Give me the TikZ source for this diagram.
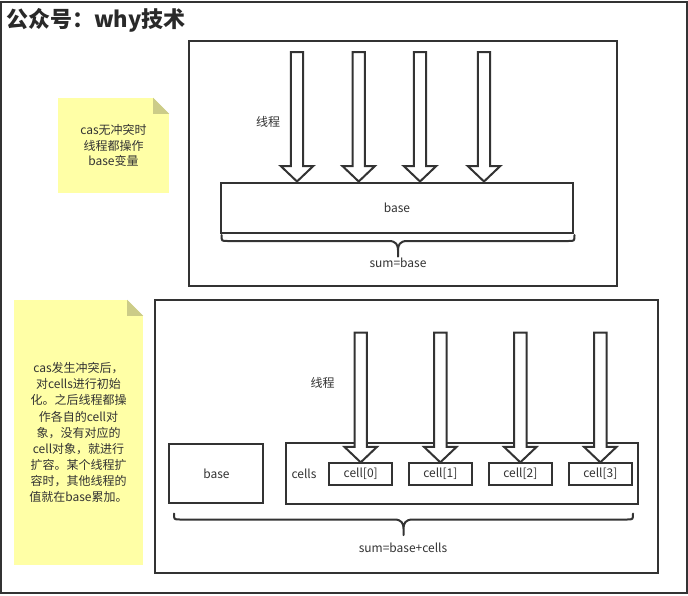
\documentclass[tikz,border=0pt]{standalone}
\usepackage{fontspec}
\setmainfont{Noto Sans CJK SC}
\usetikzlibrary{calc}
\definecolor{ln}{HTML}{333333}
\definecolor{notey}{HTML}{FFFFA6}
\definecolor{notef}{HTML}{CCCC88}
\newcommand\blockarrow[2]{%
  \draw[blk] let \p1=(#1), \p2=(#2) in
    (\x1-6.2pt,\y1) -- (\x1+6.2pt,\y1) -- (\x1+6.2pt,\y2+15.5pt) -- (\x1+16.3pt,\y2+15.5pt)
    -- (\x1,\y2) -- (\x1-16.3pt,\y2+15.5pt) -- (\x1-6.2pt,\y2+15.5pt) -- cycle;}
\newcommand\sumbrace[2]{%
  \draw[brc] let \p1=(#1), \p2=(#2), \p3=($(#1)!0.5!(#2)$) in
    (\x1,\y1) .. controls (\x1,\y1-6pt) .. (\x1+6pt,\y1-6pt) -- (\x3-9pt,\y1-6pt)
    .. controls (\x3-2pt,\y1-6pt) and (\x3,\y1-10pt) .. (\x3,\y1-15pt) -- (\x3,\y1-21.5pt)
    (\x3,\y1-15pt) .. controls (\x3,\y1-10pt) and (\x3+2pt,\y1-6pt) .. (\x3+9pt,\y1-6pt)
    -- (\x2-6pt,\y1-6pt) .. controls (\x2,\y1-6pt) .. (\x2,\y1);}
\newcommand\notefold[1]{%
  \fill[white] (#1.north east) -- ($(#1.north east)+(-16,0)$) -- ($(#1.north east)+(0,16)$) -- cycle;
  \fill[notef] ($(#1.north east)+(-16,0)$) -- ($(#1.north east)+(-16,16)$) -- ($(#1.north east)+(0,16)$) -- cycle;}
\begin{document}
\begin{tikzpicture}[x=1pt,y=-1pt,
  box/.style={draw=ln,line width=2pt,rectangle,inner sep=0pt,text=ln,font=\fontsize{12}{14}\selectfont},
  lbl/.style={text=ln,font=\fontsize{12}{14}\selectfont,inner sep=0pt},
  note/.style={fill=notey,rectangle,inner sep=0pt,text=ln,align=center},
  blk/.style={draw=ln,line width=2pt,fill=white,line join=miter},
  brc/.style={draw=ln,line width=2pt,line cap=round}]
\useasboundingbox (0,0) rectangle (688,595);
\fill[white] (0,0) rectangle (688,595);
% outer frame and title
\node[box, minimum width=686, minimum height=591] (frame) at (344,297) {};
\node[anchor=west, inner sep=0pt, text=ln!80!black, font=\fontsize{22}{24}\selectfont\bfseries] (title) at (6,20) {公众号：why技术};

% ---------- top part ----------
\node[note, minimum width=111, minimum height=95, font=\fontsize{12}{15.5}\selectfont] (n1) at (113.5,145.5) {cas无冲突时\\线程都操作\\base变量};
\notefold{n1}
\node[box, minimum width=427.5, minimum height=244.5] (topbox) at (402.75,163.25) {};
\node[box, minimum width=352, minimum height=50] (base) at (397,207.5) {base};
\node[lbl] (th1) at (268,122) {线程};
\coordinate (a1) at (297,52);
\coordinate (a2) at (358.7,52);
\coordinate (a3) at (420,52);
\coordinate (a4) at (484,52);
\blockarrow{a1}{base.north}
\blockarrow{a2}{base.north}
\blockarrow{a3}{base.north}
\blockarrow{a4}{base.north}
\coordinate (b1l) at (221.5,235);
\coordinate (b1r) at (574.5,235);
\sumbrace{b1l}{b1r}
\node[lbl] (sum1) at (398,262.5) {sum=base};

% ---------- bottom part ----------
\node[note, minimum width=129, minimum height=265, font=\fontsize{12}{16.1}\selectfont] (n2) at (78.5,432.5) {cas发生冲突后，\\对cells进行初始\\化。之后线程都操\\作各自的cell对\\象，没有对应的\\cell对象，就进行\\扩容。某个线程扩\\容时，其他线程的\\值就在base累加。};
\notefold{n2}
\node[box, minimum width=503.5, minimum height=272.5] (botbox) at (406.25,436.25) {};
\node[box, minimum width=94, minimum height=59] (base2) at (216.4,473.8) {base};
\node[box, minimum width=352.3, minimum height=61.6] (cells) at (461.9,473.5) {};
\node[lbl] (cellslbl) at (304,474) {cells};
\node[box, minimum width=63.3, minimum height=21.7] (c0) at (360.7,474.2) {cell[0]};
\node[box, minimum width=63.3, minimum height=21.7] (c1) at (440.3,474.2) {cell[1]};
\node[box, minimum width=63.3, minimum height=21.7] (c2) at (520.3,474.2) {cell[2]};
\node[box, minimum width=63.3, minimum height=21.7] (c3) at (600.3,474.2) {cell[3]};
\node[lbl] (th2) at (322.5,383) {线程};
\coordinate (d0) at (360.7,332.7);
\coordinate (d1) at (440.3,332.7);
\coordinate (d2) at (520.3,332.7);
\coordinate (d3) at (600.3,332.7);
\blockarrow{d0}{c0.north}
\blockarrow{d1}{c1.north}
\blockarrow{d2}{c2.north}
\blockarrow{d3}{c3.north}
\coordinate (b2l) at (174,513.5);
\coordinate (b2r) at (633,513.5);
\sumbrace{b2l}{b2r}
\node[lbl] (sum2) at (403,547.5) {sum=base+cells};
\end{tikzpicture}
\end{document}
